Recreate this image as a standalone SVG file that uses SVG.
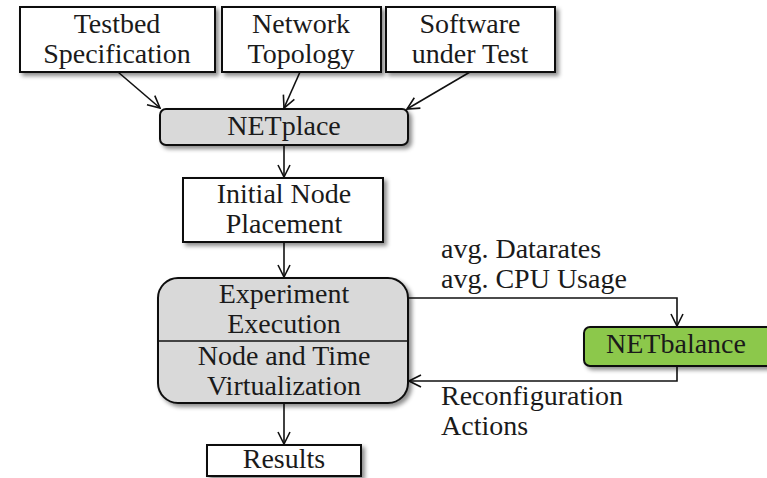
<svg xmlns="http://www.w3.org/2000/svg" width="767" height="478" viewBox="0 0 767 478">
<style>
text{font-family:"Liberation Serif","Times New Roman",serif;font-size:28px;fill:#1a1a1a;text-anchor:middle}
.lbl{text-anchor:start}
.box{stroke:#111;stroke-width:2;fill:#fff;filter:url(#sh)}
.gray{fill:#d9d9d9}
.green{fill:#8cc84b}
.con{stroke:#111;stroke-width:1.6;fill:none}
</style>
<defs>
<filter id="sh" x="-10%" y="-10%" width="130%" height="140%">
<feDropShadow dx="3" dy="3" stdDeviation="2" flood-color="#000" flood-opacity="0.45"/>
</filter>
<marker id="ar" viewBox="0 0 14 14" refX="13" refY="7" markerWidth="14" markerHeight="14" markerUnits="userSpaceOnUse" orient="auto">
<path d="M1,1 L13,7 L1,13" fill="none" stroke="#111" stroke-width="1.6"/>
</marker>
</defs>
<g id="connectors">
<line class="con" x1="118" y1="72" x2="160" y2="108" marker-end="url(#ar)"/>
<line class="con" x1="300" y1="72" x2="284" y2="108" marker-end="url(#ar)"/>
<line class="con" x1="470" y1="72" x2="407" y2="109" marker-end="url(#ar)"/>
<line class="con" x1="284" y1="145" x2="284" y2="177" marker-end="url(#ar)"/>
<line class="con" x1="284" y1="242" x2="284" y2="277" marker-end="url(#ar)"/>
<line class="con" x1="284" y1="403" x2="284" y2="444" marker-end="url(#ar)"/>
<polyline class="con" points="408,298 677,298 677,326" marker-end="url(#ar)"/>
<polyline class="con" points="677,366 677,381 409,381" marker-end="url(#ar)"/>
</g>
<g id="testbed">
<rect class="box" x="20" y="7" width="195" height="65"/>
<text x="117" y="33">Testbed</text>
<text x="117" y="63">Specification</text>
</g>
<g id="network">
<rect class="box" x="222" y="7" width="159" height="65"/>
<text x="301" y="33">Network</text>
<text x="301" y="63">Topology</text>
</g>
<g id="software">
<rect class="box" x="386" y="7" width="169" height="65"/>
<text x="470" y="33">Software</text>
<text x="470" y="63">under Test</text>
</g>
<g id="netplace">
<rect class="box gray" x="160" y="109" width="248" height="36" rx="6"/>
<text x="284" y="135">NETplace</text>
</g>
<g id="initial">
<rect class="box" x="183" y="178" width="200" height="64"/>
<text x="284" y="203">Initial Node</text>
<text x="284" y="233">Placement</text>
</g>
<g id="experiment">
<rect class="box gray" x="158" y="278" width="250" height="125" rx="20"/>
<line x1="158" y1="341" x2="408" y2="341" stroke="#111" stroke-width="1.6"/>
<text x="284" y="303">Experiment</text>
<text x="284" y="333">Execution</text>
<text x="284" y="365">Node and Time</text>
<text x="284" y="395">Virtualization</text>
</g>
<g id="results">
<rect class="box" x="207" y="445" width="154" height="31"/>
<text x="284" y="468">Results</text>
</g>
<g id="netbalance">
<rect class="box green" x="584" y="327" width="190" height="39" rx="6"/>
<text x="676" y="353">NETbalance</text>
</g>
<g id="labels">
<text class="lbl" x="441" y="258">avg. Datarates</text>
<text class="lbl" x="441" y="288">avg. CPU Usage</text>
<text class="lbl" x="441" y="405">Reconfiguration</text>
<text class="lbl" x="441" y="435">Actions</text>
</g>
</svg>
